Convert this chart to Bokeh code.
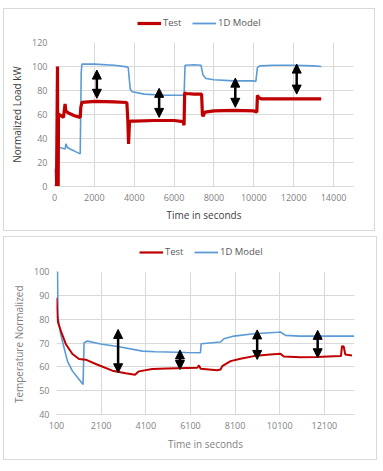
from bokeh.plotting import figure
from bokeh.models import (Legend, LegendItem, Arrow, NormalHead, FixedTicker,
                          Range1d)
from bokeh.layouts import column
from bokeh.embed import file_html
from bokeh.resources import INLINE

# ---------------- data: top chart (Normalized Load kW) ----------------
load_test_t = [0, 100, 150, 165, 185, 200, 450, 530, 570, 700, 1000, 1290, 1320, 1375,
               2040, 3000, 3630, 3680, 3715, 3760, 3800, 4000, 5000, 6000, 6450, 6500,
               6530, 6600, 7000, 7380, 7420, 7450, 7550, 8000, 9000, 10000, 10150,
               10180, 10250, 10400, 11000, 12000, 13000, 13380]
load_test_v = [0, 0, 100, 0, 0, 60.4, 57.6, 68.7, 63, 61.2, 59, 57.6, 66, 70.1,
               71, 70.5, 70, 55, 35.5, 53, 54.5, 54.5, 55, 55, 54, 51,
               78, 77.5, 77, 77, 60, 58.5, 62, 63, 63.5, 63, 62,
               76, 74, 73, 73, 73, 73, 73]

load_model_t = [0, 90, 110, 120, 200, 500, 537, 572, 650, 800, 1000, 1290, 1340, 1375,
                2000, 3000, 3630, 3700, 3800, 3900, 4500, 5500, 6450, 6500, 6550, 7000,
                7350, 7450, 7600, 8000, 9000, 10000, 10100, 10180, 10300, 11000, 12000,
                13000, 13380]
load_model_v = [15, 2, 0, 41, 32.7, 31.5, 31.3, 35.5, 32.5, 31, 29.5, 27.2, 95, 102,
                102, 101, 99.7, 99, 81.2, 79, 77, 76, 76, 76, 101, 101.5,
                101, 93, 90, 89, 88, 88, 87.5, 99, 100.5, 101, 101,
                100.5, 100]

load_arrow_x = [2125, 5250, 9070, 12150]
load_arrow_top = [97, 81.8, 90.3, 102]
load_arrow_bot = [73.5, 57.6, 66, 77]

load_x_ticks = [0, 2000, 4000, 6000, 8000, 10000, 12000, 14000]
load_y_ticks = [0, 20, 40, 60, 80, 100, 120]

# ---------------- data: bottom chart (Temperature Normalized) ----------------
temp_test_t = [100, 145, 175, 290, 515, 815, 1110, 1410, 1860, 2600, 3200, 3615,
               3790, 4390, 5064, 5958, 6405, 6480, 6555, 7300, 7449, 7524, 7897,
               8343, 8940, 9536, 10132, 10281, 11027, 11772, 12517, 12845, 12890,
               12965, 13039, 13337]
temp_test_v = [89, 80.6, 78.5, 75.2, 69.6, 65.4, 63.3, 63.0, 61.2, 58.4, 57.3, 56.7,
               58.1, 59.1, 59.3, 59.5, 59.6, 60.6, 59.2, 58.6, 58.9, 60.3, 62.4,
               63.4, 64.5, 65.1, 65.5, 64.3, 64.0, 64.1, 64.4, 64.5, 68.7,
               68.5, 65.2, 64.8]

temp_model_t = [100, 145, 170, 290, 440, 590, 815, 1000, 1290, 1335, 1490, 2080,
                2900, 3950, 4540, 5064, 5900, 6550, 6580, 7450, 7600, 8050, 8940,
                10000, 10130, 10360, 11000, 12000, 13440]
temp_model_v = [100, 100, 80.6, 73.6, 68, 62.4, 58.2, 56, 52.6, 70.1, 70.8, 69.6,
                68.4, 66.6, 66.3, 66.2, 66.0, 65.9, 69.7, 70.4, 71.8, 72.9, 73.9,
                74.5, 74.6, 73.2, 72.9, 72.9, 72.9]

temp_arrow_x = [2860, 5630, 9090, 11800]
temp_arrow_top = [75.7, 67.1, 75.5, 75.3]
temp_arrow_bot = [57.5, 58.9, 63.1, 63.8]

temp_x_ticks = [100, 2100, 4100, 6100, 8100, 10100, 12100]
temp_y_ticks = [40, 50, 60, 70, 80, 90, 100]

series_labels = ["Test", "1D Model"]

RED = "#C00000"
BLUE = "#5B9BD5"
GRID = "#D9D9D9"
BORDER = "1px solid #D9D9D9"
FONT = "Open Sans"


def style(p, label_color, tick_color, xlab_standoff):
    p.xgrid.grid_line_color = GRID
    p.ygrid.grid_line_color = GRID
    p.outline_line_color = None
    for ax in (p.xaxis[0], p.yaxis[0]):
        ax.major_tick_line_color = None
        ax.minor_tick_line_color = None
        ax.major_tick_out = 0
        ax.major_tick_in = 0
        ax.minor_tick_out = 0
        ax.minor_tick_in = 0
        ax.major_label_text_font = FONT
        ax.major_label_text_font_size = "9px"
        ax.major_label_text_color = tick_color
        ax.axis_label_text_font = FONT
        ax.axis_label_text_font_size = "10px"
        ax.axis_label_text_font_style = "normal"
        ax.axis_label_text_color = label_color
    p.xaxis[0].major_label_standoff = 7
    p.yaxis[0].major_label_standoff = 7
    p.xaxis[0].axis_line_color = GRID
    p.yaxis[0].axis_line_color = None
    p.xaxis[0].axis_label_standoff = xlab_standoff
    p.yaxis[0].axis_label_standoff = 5
    p.border_fill_color = "white"
    p.styles = {"border": BORDER, "border-top": "none"}


def legend_fig(width, height, frame_left, frame_right, leg_x, leg_top,
               test_t, test_v, model_t, model_v, test_width):
    # a strip holding only the legend; the series are drawn out of its view
    lf = figure(width=width, height=height, output_backend="svg",
                toolbar_location=None, x_axis_type=None, y_axis_type=None,
                x_range=Range1d(0, 1), y_range=Range1d(1000, 1001),
                min_border_left=frame_left, min_border_right=frame_right,
                min_border_top=0, min_border_bottom=0)
    lf.outline_line_color = None
    lf.xgrid.visible = False
    lf.ygrid.visible = False
    lf.border_fill_color = "white"
    lf.styles = {"border": BORDER, "border-bottom": "none"}
    r1 = lf.line(test_t, test_v, line_color=RED, line_width=test_width)
    r2 = lf.line(model_t, model_v, line_color=BLUE, line_width=1.8)
    leg = Legend(items=[LegendItem(label=series_labels[0], renderers=[r1]),
                        LegendItem(label=series_labels[1], renderers=[r2])],
                 orientation="horizontal",
                 location=(leg_x - frame_left, height - leg_top - 12),
                 background_fill_alpha=0, border_line_color=None,
                 label_text_font=FONT, label_text_font_size="9.5px",
                 label_text_color="#595959", glyph_width=24, glyph_height=10,
                 label_standoff=2, spacing=9, padding=0, margin=0,
                 label_height=12)
    lf.add_layout(leg, "center")
    return lf


def add_arrows(p, xs, top, bot):
    for x, y0, y1 in zip(xs, top, bot):
        p.add_layout(Arrow(x_start=x, y_start=y0, x_end=x, y_end=y1,
                           line_color="black", line_width=2.5,
                           start=NormalHead(size=9, fill_color="black", line_color="black"),
                           end=NormalHead(size=9, fill_color="black", line_color="black")))


# ---------------- top chart ----------------
l1 = legend_fig(372, 29, 50, 23, 133, 8, load_test_t, load_test_v,
                load_model_t, load_model_v, 3.2)
p1 = figure(width=372, height=194, output_backend="svg", toolbar_location=None,
            x_range=Range1d(0, 15000), y_range=Range1d(0, 120),
            min_border_left=50, min_border_right=23, min_border_top=5,
            min_border_bottom=45)
p1.xaxis.ticker = FixedTicker(ticks=load_x_ticks)
p1.yaxis.ticker = FixedTicker(ticks=load_y_ticks)
p1.xaxis.axis_label = "Time in seconds"
p1.yaxis.axis_label = "Normalized Load kW"
style(p1, "#404040", "#7F7F7F", 4)
p1.line(load_model_t, load_model_v, line_color=BLUE, line_width=1.6)
p1.line(load_test_t, load_test_v, line_color=RED, line_width=3.2)
add_arrows(p1, load_arrow_x, load_arrow_top, load_arrow_bot)

# ---------------- bottom chart ----------------
l2 = legend_fig(374, 30, 52, 24, 135, 9, temp_test_t, temp_test_v,
                temp_model_t, temp_model_v, 2.2)
p2 = figure(width=374, height=194, output_backend="svg", toolbar_location=None,
            x_range=Range1d(100, 13450), y_range=Range1d(40, 100),
            min_border_left=52, min_border_right=24, min_border_top=5,
            min_border_bottom=46)
p2.xaxis.ticker = FixedTicker(ticks=temp_x_ticks)
p2.yaxis.ticker = FixedTicker(ticks=temp_y_ticks)
p2.xaxis.axis_label = "Time in seconds"
p2.yaxis.axis_label = "Temperature  Normalized"
style(p2, "#7F7F7F", "#7F7F7F", 5)
p2.line(temp_model_t, temp_model_v, line_color=BLUE, line_width=1.6)
p2.line(temp_test_t, temp_test_v, line_color=RED, line_width=2)
add_arrows(p2, temp_arrow_x, temp_arrow_top, temp_arrow_bot)

top = column(l1, p1, spacing=0)
bottom = column(l2, p2, spacing=0)
layout = column(top, bottom, spacing=5, margin=(8, 0, 0, 3))

open("out.html", "w").write(file_html(layout, INLINE))
